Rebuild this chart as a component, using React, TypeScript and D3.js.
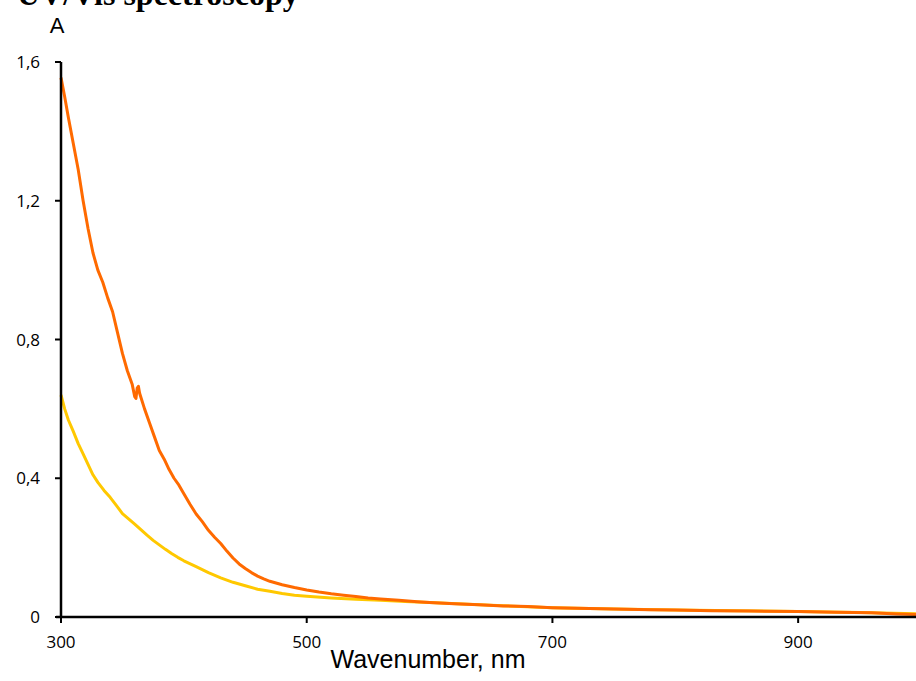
import React from "react";
import * as d3 from "d3";

const orangeNm = [300,303,306,310,314,318,322,326,330,334,338,342,346,350,354,358,360,361,362,363,364,368,372,376,380,384,388,392,396,400,405,410,415,420,425,430,435,440,445,450,455,460,465,470,480,490,500,510,520,530,540,550,560,575,590,600,620,640,660,680,700,720,750,780,800,830,860,900,930,960,980,1000];
const orangeA = [1.555,1.50,1.44,1.365,1.29,1.20,1.12,1.05,1.00,0.965,0.92,0.88,0.82,0.76,0.71,0.67,0.635,0.63,0.66,0.665,0.645,0.60,0.56,0.52,0.48,0.455,0.425,0.40,0.38,0.355,0.325,0.297,0.275,0.25,0.23,0.212,0.19,0.17,0.153,0.14,0.128,0.118,0.11,0.103,0.093,0.085,0.078,0.072,0.067,0.063,0.059,0.055,0.052,0.048,0.044,0.042,0.038,0.035,0.032,0.030,0.027,0.025,0.023,0.021,0.020,0.018,0.017,0.016,0.014,0.012,0.009,0.007];

const yellowNm = [300,303,306,310,314,318,322,326,330,335,340,345,350,355,360,365,370,375,380,385,390,395,400,410,420,430,440,450,460,470,480,490,500,520,540,560,580,600,650,700,750,800,850,900,950,1000];
const yellowA = [0.64,0.60,0.568,0.535,0.50,0.47,0.44,0.41,0.388,0.365,0.345,0.322,0.298,0.283,0.268,0.252,0.236,0.221,0.208,0.195,0.183,0.172,0.162,0.145,0.128,0.113,0.100,0.090,0.080,0.074,0.068,0.063,0.060,0.055,0.051,0.048,0.045,0.042,0.034,0.027,0.023,0.020,0.018,0.016,0.013,0.009];

const xTicks = [300, 500, 700, 900];
const yTicks = [0, 0.4, 0.8, 1.2, 1.6];

const title = "UV/Vis spectroscopy";
const yLabel = "A";
const xLabel = "Wavenumber, nm";

const W = 916;
const H = 681;

export default function App() {
  const x = d3.scaleLinear().domain([300, 1000]).range([61, 921]);
  const y = d3.scaleLinear().domain([0, 1.6]).range([617, 62]);
  const line = d3
    .line<[number, number]>()
    .x((d) => x(d[0]))
    .y((d) => y(d[1]));
  const yellow = yellowNm.map((n, i) => [n, yellowA[i]] as [number, number]);
  const orange = orangeNm.map((n, i) => [n, orangeA[i]] as [number, number]);
  const font = "'Open Sans', 'Noto Sans', sans-serif";
  const arial = "'Liberation Sans', Arial, sans-serif";
  return (
    <svg
      width={W}
      height={H}
      style={{ position: "absolute", left: 0, top: 0, background: "#fff" }}
    >
      <rect width={W} height={H} fill="#fff" />
      <text
        x={17}
        y={5}
        fontFamily="'Liberation Serif', 'Times New Roman', serif"
        fontWeight="bold"
        fontSize={32}
        fill="#000"
      >
        {title}
      </text>
      <text x={57} y={33} textAnchor="middle" fontFamily={arial} fontSize={22} fill="#000">
        {yLabel}
      </text>
      <path d={line(yellow) || ""} fill="none" stroke="#FFC800" strokeWidth={3} strokeLinejoin="round" />
      <path d={line(orange) || ""} fill="none" stroke="#FF6A00" strokeWidth={3} strokeLinejoin="round" />
      <line x1={x(300)} x2={x(300)} y1={y(1.6)} y2={y(0)} stroke="#000" strokeWidth={2.5} />
      <line x1={x(300) - 5} x2={W} y1={y(0)} y2={y(0)} stroke="#000" strokeWidth={2.5} />
      {yTicks.map((t) => (
        <g key={"y" + t}>
          <line x1={x(300) - 6} x2={x(300)} y1={y(t)} y2={y(t)} stroke="#000" strokeWidth={2} />
          <text
            x={40}
            y={y(t)}
            dy="0.36em"
            textAnchor="end"
            fontFamily={font}
            fontSize={17}
            fill="#000"
          >
            {String(t).replace(".", ",")}
          </text>
        </g>
      ))}
      {xTicks.map((t) => (
        <g key={"x" + t}>
          <line x1={x(t)} x2={x(t)} y1={y(0)} y2={y(0) + 6} stroke="#000" strokeWidth={2} />
          <text
            x={x(t)}
            y={648}
            textAnchor="middle"
            fontFamily={font}
            fontSize={17}
            fill="#000"
          >
            {t}
          </text>
        </g>
      ))}
      <text x={428} y={668} textAnchor="middle" fontFamily={arial} fontSize={25} fill="#000">
        {xLabel}
      </text>
    </svg>
  );
}
